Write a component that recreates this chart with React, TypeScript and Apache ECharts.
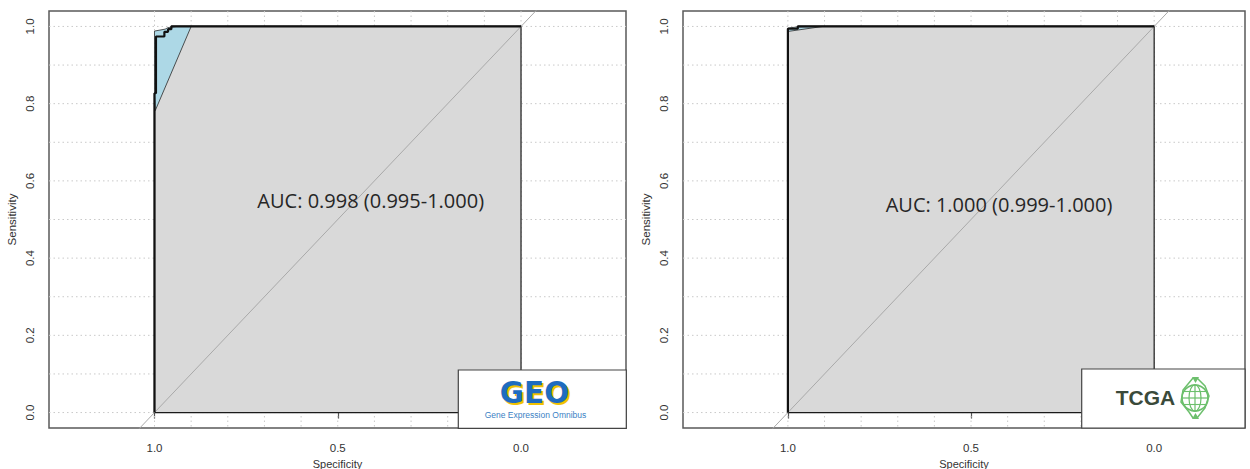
import React, { useEffect, useRef } from "react";
import * as echarts from "echarts";

// Dotted reference grid positions (both axes)
const gridSteps = [0, 0.1, 0.2, 0.3, 0.4, 0.5, 0.6, 0.7, 0.8, 0.9, 1.0];
const xTickValues = [0, 0.5, 1];
const yTickValues = [0, 0.2, 0.4, 0.6, 0.8, 1];

// GEO cohort: ROC curve as [specificity, sensitivity]
const geoRoc = [
  [1, 0], [1, 0.827], [0.996, 0.827], [0.996, 0.974], [0.973, 0.974],
  [0.973, 0.986], [0.963, 0.986], [0.963, 0.993], [0.954, 0.993], [0.954, 1], [0, 1],
];
// GEO cohort: sensitivity confidence band
const geoCiBand = [
  [0.998, 0.782], [1, 0.83], [1, 0.988], [0.971, 0.993], [0.963, 0.997], [0.94, 1], [0.9, 1],
];

// TCGA cohort: ROC curve and confidence band
const tcgaRoc = [[1, 0], [1, 0.994], [0.973, 0.994], [0.973, 1], [0, 1]];
const tcgaCiBand = [[1, 0.987], [1, 0.996], [0.97, 0.999], [0.905, 1]];

// Chance diagonal (clipped to the plot box)
const chanceLine = [[1.5, -0.5], [-0.5, 1.5]];

const geoAucText = "AUC: 0.998 (0.995-1.000)";
const tcgaAucText = "AUC: 1.000 (0.999-1.000)";

const AXIS_FONT = "'Liberation Sans', Arial, sans-serif";

function gridRender(params: any, api: any) {
  const cs = params.coordSys;
  const children: any[] = [];
  const style = { stroke: "#c9c9c9", lineWidth: 1, lineDash: [1.5, 3] };
  gridSteps.forEach((v) => {
    const x = api.coord([v, 0])[0];
    children.push({ type: "line", shape: { x1: x, y1: cs.y, x2: x, y2: cs.y + cs.height }, style });
    const y = api.coord([0, v])[1];
    children.push({ type: "line", shape: { x1: cs.x, y1: y, x2: cs.x + cs.width, y2: y }, style });
  });
  return { type: "group", children };
}

function polygonRender(points: number[][], style: any) {
  return (_params: any, api: any) => ({
    type: "polygon",
    shape: { points: points.map((p) => api.coord(p)) },
    style,
  });
}

function panelSeries(idx: number, roc: number[][], band: number[][]) {
  const area = [...roc, [0, 0]];
  return [
    {
      type: "custom", xAxisIndex: idx, yAxisIndex: idx, z: 1, silent: true,
      data: [[0, 0]], renderItem: gridRender,
    },
    {
      type: "custom", xAxisIndex: idx, yAxisIndex: idx, z: 2, silent: true,
      data: [[0, 0]],
      renderItem: polygonRender(area, { fill: "#d9d9d9", stroke: "#1a1a1a", lineWidth: 1.2 }),
    },
    {
      type: "line", xAxisIndex: idx, yAxisIndex: idx, z: 3, silent: true,
      data: chanceLine, symbol: "none", clip: true,
      lineStyle: { color: "#a9a9a9", width: 1 },
    },
    {
      type: "custom", xAxisIndex: idx, yAxisIndex: idx, z: 4, silent: true,
      data: [[0, 0]],
      renderItem: polygonRender(band, { fill: "#add8e6", stroke: "#2a2a2a", lineWidth: 0.8 }),
    },
    {
      type: "line", xAxisIndex: idx, yAxisIndex: idx, z: 5, silent: true,
      data: roc, symbol: "none", clip: false,
      lineStyle: { color: "#111", width: 2.2 },
    },
  ];
}

function xAxisFor(idx: number, min: number, max: number) {
  return {
    gridIndex: idx, type: "value", inverse: true, min, max,
    axisLine: { show: false }, splitLine: { show: false },
    axisTick: { show: true, customValues: xTickValues, length: 6, lineStyle: { color: "#555", width: 1.2 } },
    axisLabel: {
      customValues: xTickValues, formatter: (v: number) => v.toFixed(1),
      margin: 14, fontSize: 11.5, color: "#333", fontFamily: AXIS_FONT,
    },
    name: "Specificity", nameLocation: "middle", nameGap: 26,
    nameTextStyle: { fontSize: 11, color: "#333", fontFamily: AXIS_FONT },
  };
}

function yAxisFor(idx: number) {
  return {
    gridIndex: idx, type: "value", min: -0.04, max: 1.04,
    axisLine: { show: false }, splitLine: { show: false },
    axisTick: { show: true, customValues: yTickValues, length: 5, lineStyle: { color: "#555", width: 1.2 } },
    axisLabel: {
      customValues: yTickValues, formatter: (v: number) => v.toFixed(1), rotate: 90,
      margin: 13, fontSize: 11.5, color: "#333", fontFamily: AXIS_FONT,
    },
    name: "Sensitivity", nameLocation: "middle", nameGap: 31,
    nameTextStyle: { fontSize: 11.5, color: "#333", fontFamily: AXIS_FONT },
  };
}

// Globe emblem next to the TCGA wordmark
const globe = { cx: 1195, cy: 398, r: 13 };
const globeGreen = "#6cbf6c";
const globeElements = [
  { type: "circle", shape: { cx: globe.cx, cy: globe.cy, r: globe.r }, style: { fill: "transparent", stroke: globeGreen, lineWidth: 1.6 } },
  { type: "ellipse", shape: { cx: globe.cx, cy: globe.cy, rx: 6, ry: globe.r }, style: { fill: "transparent", stroke: globeGreen, lineWidth: 1.2 } },
  { type: "line", shape: { x1: globe.cx, y1: globe.cy - globe.r, x2: globe.cx, y2: globe.cy + globe.r }, style: { stroke: globeGreen, lineWidth: 1.2 } },
  { type: "line", shape: { x1: globe.cx - globe.r, y1: globe.cy, x2: globe.cx + globe.r, y2: globe.cy }, style: { stroke: globeGreen, lineWidth: 1.2 } },
  { type: "line", shape: { x1: globe.cx - 11, y1: globe.cy - 6.5, x2: globe.cx + 11, y2: globe.cy - 6.5 }, style: { stroke: globeGreen, lineWidth: 1.1 } },
  { type: "line", shape: { x1: globe.cx - 11, y1: globe.cy + 6.5, x2: globe.cx + 11, y2: globe.cy + 6.5 }, style: { stroke: globeGreen, lineWidth: 1.1 } },
  { type: "polyline", shape: { points: [[globe.cx - 2, globe.cy - 20], [globe.cx - 12, globe.cy - 8], [globe.cx - 14, globe.cy + 4], [globe.cx - 6, globe.cy + 14], [globe.cx - 2, globe.cy + 20]] }, style: { fill: "transparent", stroke: globeGreen, lineWidth: 1.5 } },
  { type: "polyline", shape: { points: [[globe.cx + 2, globe.cy - 20], [globe.cx + 10, globe.cy - 12], [globe.cx + 14, globe.cy - 2], [globe.cx + 10, globe.cy + 10], [globe.cx + 2, globe.cy + 20]] }, style: { fill: "transparent", stroke: globeGreen, lineWidth: 1.5 } },
  { type: "polygon", shape: { points: [[globe.cx - 3, globe.cy - 21], [globe.cx + 4, globe.cy - 21], [globe.cx + 0.5, globe.cy - 15]] }, style: { fill: globeGreen } },
  { type: "polygon", shape: { points: [[globe.cx - 3, globe.cy + 21], [globe.cx + 4, globe.cy + 21], [globe.cx + 0.5, globe.cy + 15]] }, style: { fill: globeGreen } },
].map((el) => ({ ...el, z: 105 }));

export default function App() {
  const ref = useRef<HTMLDivElement>(null);

  useEffect(() => {
    if (!ref.current) return;
    const chart = echarts.init(ref.current, undefined, { renderer: "svg" });
    const gridBox = {
      show: true, borderColor: "#5a5a5a", borderWidth: 1.5, backgroundColor: "transparent",
      containLabel: false, outerBoundsMode: "none",
    };

    chart.setOption({
      animation: false,
      backgroundColor: "#ffffff",
      grid: [
        { left: 49, top: 11, width: 577, height: 417, ...gridBox },
        { left: 683, top: 11, width: 562, height: 417, ...gridBox },
      ],
      xAxis: [xAxisFor(0, -0.2864, 1.2878), xAxisFor(1, -0.248, 1.2864)],
      yAxis: [yAxisFor(0), yAxisFor(1)],
      series: [...panelSeries(0, geoRoc, geoCiBand), ...panelSeries(1, tcgaRoc, tcgaCiBand)],
      graphic: [
        {
          type: "text", x: 370.7, y: 200, z: 100,
          style: { text: geoAucText, fontSize: 20, fontFamily: "'Open Sans', sans-serif", fill: "#262626", align: "center", verticalAlign: "middle" },
        },
        {
          type: "text", x: 999, y: 204, z: 100,
          style: { text: tcgaAucText, fontSize: 20, fontFamily: "'Open Sans', sans-serif", fill: "#262626", align: "center", verticalAlign: "middle" },
        },
        // GEO badge
        {
          type: "rect", z: 100,
          shape: { x: 458.3, y: 370, width: 168, height: 58.3 },
          style: { fill: "#ffffff", stroke: "#444", lineWidth: 1.2 },
        },
        {
          type: "text", x: 536.5, y: 394.5, z: 101, scaleX: 0.95,
          style: { text: "GEO", fontSize: 31, fontWeight: "bold", fontFamily: "'DejaVu Sans', sans-serif", fill: "#f2c200", align: "center", verticalAlign: "middle" },
        },
        {
          type: "text", x: 534.5, y: 392, z: 102, scaleX: 0.95,
          style: { text: "GEO", fontSize: 31, fontWeight: "bold", fontFamily: "'DejaVu Sans', sans-serif", fill: "#1f6cc0", align: "center", verticalAlign: "middle" },
        },
        {
          type: "text", x: 535.5, y: 415, z: 102,
          style: { text: "Gene Expression Omnibus", fontSize: 8.5, fontFamily: AXIS_FONT, fill: "#3b7fc4", align: "center", verticalAlign: "middle" },
        },
        // TCGA badge
        {
          type: "rect", z: 100,
          shape: { x: 1081.7, y: 369, width: 163.3, height: 59 },
          style: { fill: "#ffffff", stroke: "#444", lineWidth: 1.2 },
        },
        {
          type: "text", x: 1145.5, y: 397, z: 101,
          style: { text: "TCGA", fontSize: 21, fontWeight: "bold", fontFamily: AXIS_FONT, fill: "#3a4a3a", align: "center", verticalAlign: "middle" },
        },
        ...globeElements,
      ],
    });
    return () => chart.dispose();
  }, []);

  return (
    <div
      ref={ref}
      style={{ position: "fixed", left: 0, top: 0, width: 1250, height: 469, background: "#fff" }}
    />
  );
}
